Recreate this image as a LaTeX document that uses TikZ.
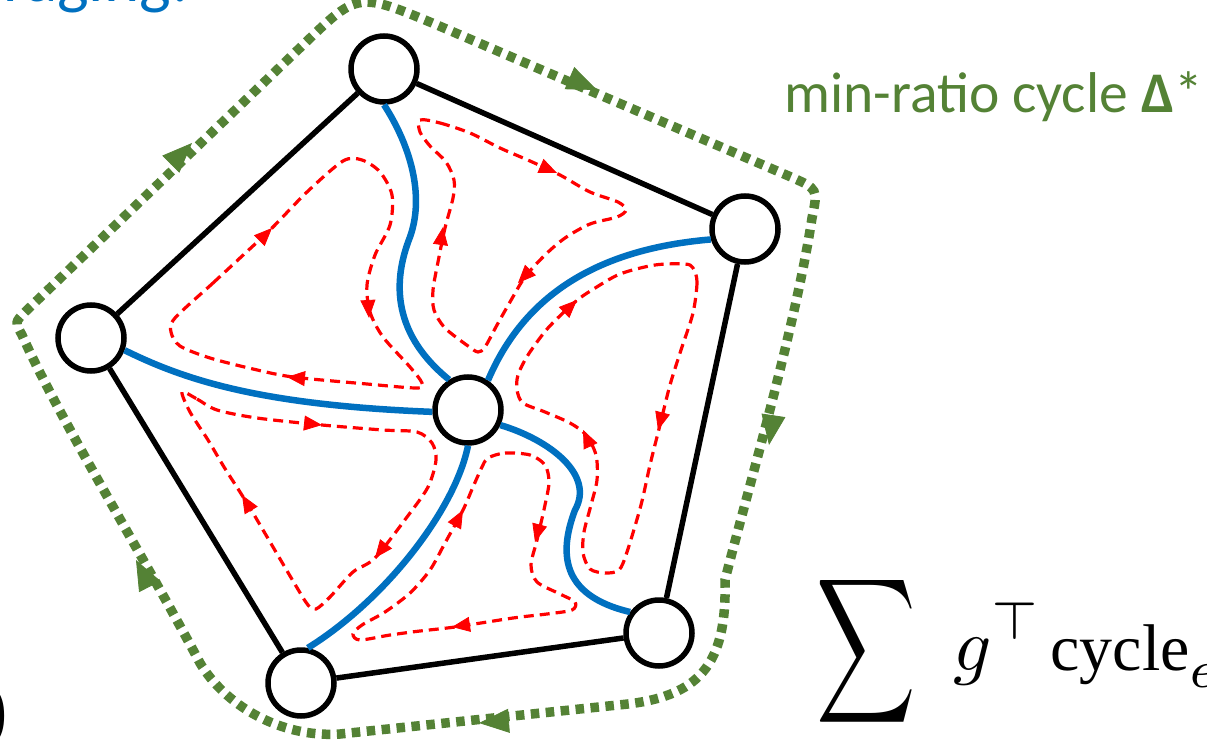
\documentclass[tikz,border=0pt]{standalone}
\usepackage{amsmath}
\usepackage{graphicx}
\usepackage[no-math]{fontspec}
\newfontfamily\calibri{Carlito}
\newfontfamily\serifface{Liberation Serif}
\usetikzlibrary{arrows.meta,calc}
\definecolor{gline}{HTML}{548235}
\definecolor{bline}{HTML}{0070C0}
\definecolor{rline}{HTML}{FF0000}
\tikzset{
  vtx/.style={circle, draw=black, line width=5.5pt, fill=white, minimum size=66pt, inner sep=0pt},
  pedge/.style={draw=black, line width=5.5pt},
  spoke/.style={draw=bline, line width=6.5pt},
  rloop/.style={draw=rline, line width=3.2pt, dash pattern=on 10pt off 6pt},
  gcycle/.style={draw=gline, line width=9.5pt, dash pattern=on 8.5pt off 6.5pt},
  rtip/.style={draw=rline, fill=rline, line width=0.8pt, -{Triangle[length=18pt,width=15pt]}},
  gtip/.style={draw=gline, fill=gline, line width=0.8pt, -{Triangle[length=30pt,width=24pt]}},
}
\newcommand\redtip[2]{\draw[rtip] ($#1!18pt!#2$) -- #1;}
\newcommand\greentip[2]{\draw[gtip] ($#1!30pt!#2$) -- #1;}
\begin{document}
\begin{tikzpicture}[x=1pt,y=-1pt]
\useasboundingbox (0,0) rectangle (1207,741);
\clip (0,0) rectangle (1207,741);
\fill[white] (0,0) rectangle (1207,741);

% green min-ratio cycle
\draw[gcycle] (25,312) -- (305,43) .. controls (358,-8) .. (437,25) -- (791,177)
  .. controls (818,189) .. (812,218)
  .. controls (795,330) and (745,500) .. (725,580)
  .. controls (727,665) and (700,698) .. (618,705) -- (340,734)
  .. controls (280,738) and (225,705) .. (200,663)
  .. controls (140,550) and (60,420) .. (22,335)
  .. controls (15,322) .. cycle;

% vertices
\node[vtx] (A) at (384,69) {};
\node[vtx] (B) at (745,229) {};
\node[vtx] (C) at (659,633) {};
\node[vtx] (D) at (301,683) {};
\node[vtx] (E) at (91,338) {};
\node[vtx] (O) at (468,410) {};

% pentagon edges
\draw[pedge] (A) -- (B);
\draw[pedge] (B) -- (C);
\draw[pedge] (C) -- (D);
\draw[pedge] (D) -- (E);
\draw[pedge] (E) -- (A);

% blue spokes
\draw[spoke] (A.south) .. controls (410,145) and (425,195) .. (410,237)
  .. controls (395,275) and (388,330) .. (O.122);
\draw[spoke] (O.56) .. controls (520,305) and (585,250) .. (B.197);
\draw[spoke] (O.-25) .. controls (550,440) and (595,475) .. (575,510)
  .. controls (560,550) and (558,595) .. (C.144);
\draw[spoke] (O.south) .. controls (455,510) and (385,600) .. (D.79);
\draw[spoke] (E.-20) .. controls (185,380) and (260,405) .. (O.183);

% red fundamental cycles
\draw[rloop] plot[smooth cycle, tension=0.5] coordinates {
  (175,318) (213,283) (240,258) (272,228) (307,192) (343,161) (362,160) (380,172)
  (392,195) (390,225) (375,255) (367,285) (370,312) (383,337) (410,367) (422,383)
  (417,388) (367,384) (293,377) (253,369) (210,358) (180,346) (171,332)};
\draw[rloop] plot[smooth cycle, tension=0.5] coordinates {
  (420,120) (440,123) (470,133) (500,148) (530,161) (560,175) (590,192) (618,202)
  (626,210) (617,217) (590,224) (565,238) (545,255) (525,277) (510,302) (497,325)
  (485,347) (478,352) (468,346) (445,328) (434,310) (433,290) (438,262) (445,228)
  (453,198) (454,180) (446,162) (430,146) (420,132)};
\draw[rloop] plot[smooth cycle, tension=0.5] coordinates {
  (693,268) (697,282) (693,313) (681,350) (670,385) (660,425) (650,465) (641,505)
  (627,552) (619,570) (605,573) (590,569) (583,553) (584,532) (591,505) (597,480)
  (596,455) (586,435) (570,423) (545,412) (523,403) (517,390) (518,375) (528,355)
  (548,328) (575,302) (592,290) (620,274) (655,265) (685,264)};
\draw[rloop] plot[smooth cycle, tension=0.5] coordinates {
  (488,458) (505,453) (530,455) (545,465) (549,482) (545,505) (537,540) (531,565)
  (537,582) (560,594) (575,602) (572,610) (547,614) (513,618) (455,627) (420,631)
  (390,635) (360,640) (353,634) (362,625) (385,612) (410,593) (430,570) (445,543)
  (463,510) (473,487) (482,467)};
\draw[rloop] plot[smooth cycle, tension=0.5] coordinates {
  (182,392) (197,399) (217,410) (257,418) (322,425) (383,430) (417,432) (432,443)
  (436,460) (428,487) (407,517) (375,558) (353,572) (330,597) (316,609) (308,605)
  (296,586) (273,547) (253,513) (240,492) (224,467) (208,440) (190,412)};

% red arrowheads
\redtip{(272,228)}{(240,260)}
\redtip{(369,318)}{(367,285)}
\redtip{(287,377)}{(367,384)}
\redtip{(557,173)}{(527,160)}
\redtip{(518,283)}{(545,255)}
\redtip{(443,227)}{(438,262)}
\redtip{(658,430)}{(670,385)}
\redtip{(583,430)}{(597,460)}
\redtip{(577,300)}{(548,328)}
\redtip{(535,542)}{(545,505)}
\redtip{(452,627)}{(513,618)}
\redtip{(463,510)}{(445,543)}
\redtip{(322,425)}{(257,418)}
\redtip{(375,558)}{(407,517)}
\redtip{(242,495)}{(273,547)}

% green arrowheads
\greentip{(597,90)}{(560,74)}
\greentip{(769,445)}{(775,405)}
\greentip{(479,723)}{(520,720)}
\greentip{(136,560)}{(150,587)}
\greentip{(192,143)}{(170,165)}

% texts
\node[anchor=base west, inner sep=0pt, text=gline, font=\calibri\fontsize{57.5}{62}\selectfont] (lbl) at (784,113) {min-ratio cycle \textbf{Δ}*};
\node[anchor=base east, inner sep=0pt, text=bline, font=\calibri\fontsize{67}{67}\selectfont] (ttl) at (189,2) {Averaging:};
\node[anchor=base east, inner sep=0pt, font=\serifface\fontsize{80}{80}\selectfont] (par) at (8,735) {)};
\node[anchor=base west, inner sep=0pt] (sum) at (791,670) {\scalebox{7.5}{$\displaystyle\mathop{\vcenter{\hbox{\scalebox{0.92}[1.35]{$\displaystyle\sum$}}}}\limits_{e\in\Delta^{\star}} g^{\top}\mkern2mu\text{\serifface\fontsize{8.8}{10}\selectfont cycle}_{e}$}};
\end{tikzpicture}
\end{document}
